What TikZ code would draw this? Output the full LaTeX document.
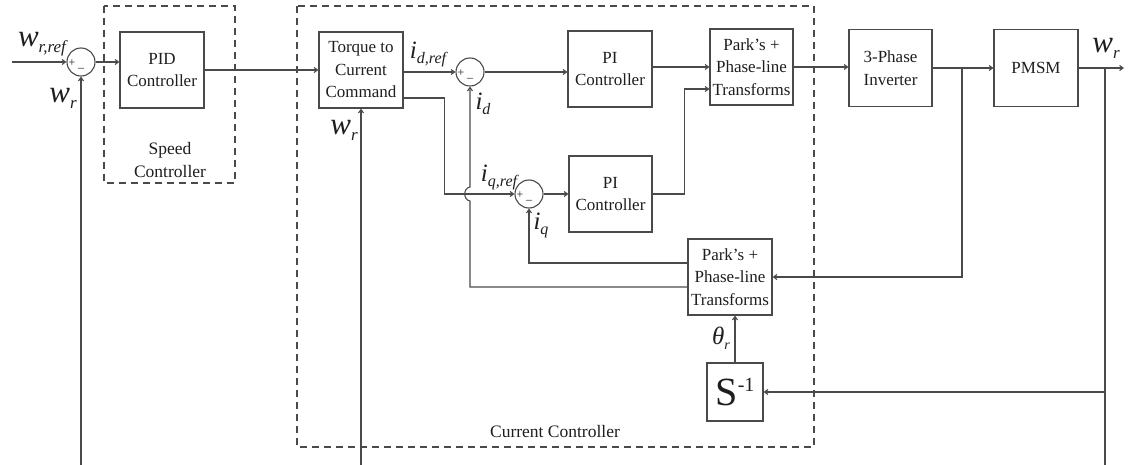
\documentclass[tikz,border=0pt]{standalone}
\usepackage{fontspec}
\setmainfont{Liberation Serif}
\usetikzlibrary{arrows.meta}
\definecolor{lc}{HTML}{4A4A4A}
\definecolor{tc}{HTML}{1E1E1E}
\newcommand\wlab[1]{{\fontsize{31}{31}\selectfont\itshape w}{\fontsize{17}{17}\selectfont\itshape\raisebox{-6pt}{#1}}}
\newcommand\ilab[1]{{\fontsize{25}{25}\selectfont\itshape i}{\fontsize{16}{16}\selectfont\itshape\raisebox{-5pt}{#1}}}
\begin{document}
\begin{tikzpicture}[x=1pt,y=-1pt,
  blk/.style={draw=lc,line width=1.1pt,rectangle,align=center,text=tc,inner sep=0pt,
    font=\fontsize{17}{22.5}\selectfont,minimum width=84pt,minimum height=76pt},
  sumc/.style={draw=lc,line width=1.1pt,circle,minimum size=28pt,inner sep=0pt},
  arr/.style={draw=lc,line width=1.1pt,-{Straight Barb[length=3.5pt,width=5pt]}},
  ln/.style={draw=lc,line width=1.1pt},
  grp/.style={draw=lc,line width=1.1pt,dash pattern=on 7pt off 5pt},
  lab/.style={text=tc,inner sep=0pt},
  sg/.style={text=tc,inner sep=0pt,font=\fontsize{12}{12}\selectfont}]
\useasboundingbox (0,0) rectangle (1128,465);
% group boxes
\draw[grp] (104,6) rectangle (235,183);
\node[lab,align=center,font=\fontsize{17.5}{23}\selectfont] (sct) at (170,160) {Speed\\Controller};
\draw[grp] (297,6) rectangle (814,447);
\node[lab,font=\fontsize{17.5}{20}\selectfont] (cct) at (555,432) {Current Controller};
% nodes
\node[sumc] (sum1) at (81,62) {};
\node[blk] (pid) at (162,70) {PID\\Controller};
\node[blk] (tq) at (361,70) {Torque to\\Current\\Command};
\node[sumc] (sum2) at (470,72) {};
\node[blk] (pi1) at (610,69) {PI\\Controller};
\node[sumc] (sum3) at (529,194) {};
\node[blk,minimum width=83pt] (pi2) at (610.5,194) {PI\\Controller};
\node[blk,minimum width=83pt] (park1) at (751.5,67) {Park's +\\Phase-line\\Transforms};
\node[blk,minimum width=83pt,minimum height=77pt] (inv) at (890.5,68) {3-Phase\\Inverter};
\node[blk,minimum height=77pt] (pmsm) at (1036,68) {PMSM};
\node[blk] (park2) at (730,277) {Park's +\\Phase-line\\Transforms};
\node[blk,minimum width=56pt,minimum height=58pt] (sinv) at (735,392)
  {{\fontsize{40}{40}\selectfont S}{\fontsize{20}{20}\selectfont\raisebox{14pt}{-1}}};
% signs
\node[sg] at (72,63) {+};
\node[sg] at (81,70) {--};
\node[sg] at (461,73) {+};
\node[sg] at (470,80) {--};
\node[sg] at (520,195) {+};
\node[sg] at (529,202) {--};
% coordinates
\coordinate (in) at (12,62);
\coordinate (b1) at (81,465);
\coordinate (b2) at (361,465);
\coordinate (br1) at (962,68);
\coordinate (br2) at (1105,68);
\coordinate (b3) at (1105,465);
\coordinate (out) at (1124,68);
% connectors
\draw[arr] (in) -- (sum1.west);
\draw[arr] (b1) -- (sum1.south);
\draw[arr] (sum1.east) -- (sum1.east -| pid.west);
\draw[arr] (pid.east) -- (pid.east -| tq.west);
\draw[arr] (b2) -- (tq.south);
\draw[arr] (tq.east |- sum2.west) -- (sum2.west);
\draw[arr] (sum2.east) -- (sum2.east -| pi1.west);
\draw[arr] ([yshift=-28pt]tq.east) -- ++(41,0) |- (sum3.west);
\draw[arr] (sum3.east) -- (sum3.east -| pi2.west);
\draw[arr] (pi1.east |- park1.west) -- (park1.west);
\draw[arr] (pi2.east) -- ++(32,0) |- ([yshift=-22pt]park1.west);
\draw[arr] (park1.east) -- (park1.east -| inv.west);
\draw[arr] (inv.east) -- (pmsm.west);
\draw[arr] (pmsm.east) -- (out);
\draw[arr] (br1) |- (park2.east);
\draw[ln] (br2) -- (b3);
\draw[arr] (br2 |- sinv.east) -- (sinv.east);
\draw[arr] (sinv.north) -- (sinv.north |- park2.south);
\draw[arr] ([yshift=14pt]park2.west) -| (sum3.south);
\draw[arr] ([yshift=-10pt]park2.west) -| (470,201) .. controls (463,200) and (463,188) .. (470,187) -- (sum2.south);
% labels
\node[lab] (lwref) at (42,44) {\wlab{r,ref}};
\node[lab] (lw1) at (63,98) {\wlab{r}};
\node[lab] (lw2) at (344,130) {\wlab{r}};
\node[lab] (lw3) at (1106,48) {\wlab{r}};
\node[lab] (lidr) at (428,54) {\ilab{d,ref}};
\node[lab] (lid) at (483,104) {\ilab{d}};
\node[lab] (liqr) at (499,177) {\ilab{q,ref}};
\node[lab] (liq) at (541,225) {\ilab{q}};
\node[lab] (lth) at (721,338) {{\fontsize{25}{25}\selectfont\itshape θ}{\fontsize{14}{14}\selectfont\itshape\raisebox{-5pt}{r}}};
\end{tikzpicture}
\end{document}
